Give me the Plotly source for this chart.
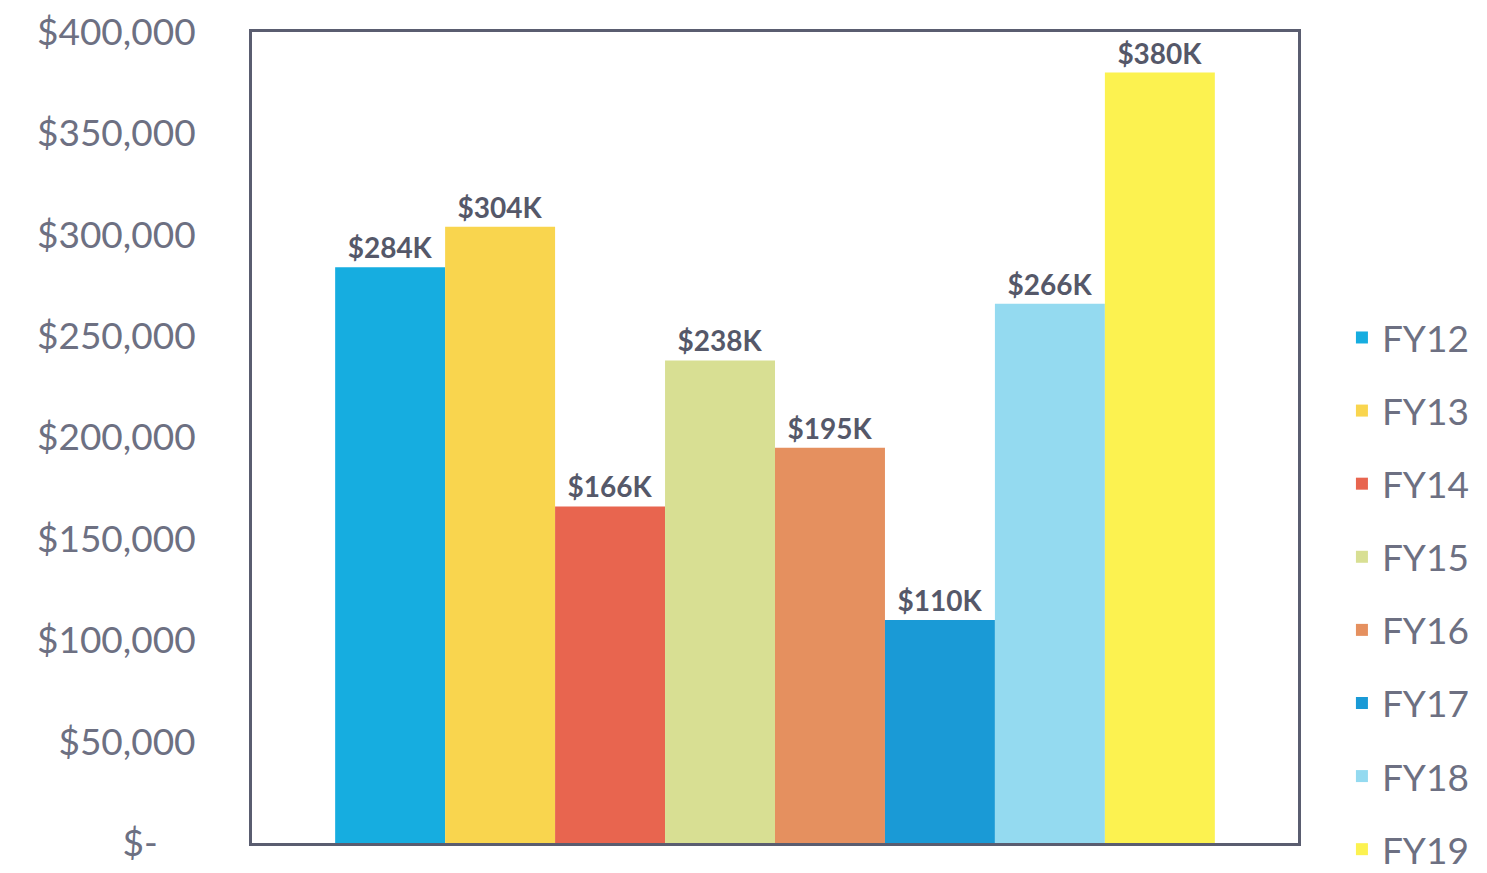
import plotly.graph_objects as go

years = ["FY12", "FY13", "FY14", "FY15", "FY16", "FY17", "FY18", "FY19"]
values = [284000, 304000, 166000, 238000, 195000, 110000, 266000, 380000]
labels = ["$284K", "$304K", "$166K", "$238K", "$195K", "$110K", "$266K", "$380K"]
colors = ["#16ade0", "#f9d54e", "#e8654f", "#d8df93", "#e5905f", "#1a9ad6", "#94daf0", "#fcf250"]
tick_vals = [0, 50000, 100000, 150000, 200000, 250000, 300000, 350000, 400000]
tick_text = ["$-\u00a0\u00a0\u00a0\u00a0", "$50,000", "$100,000", "$150,000", "$200,000",
             "$250,000", "$300,000", "$350,000", "$400,000"]

fig = go.Figure()
for yr, v, lab, c in zip(years, values, labels, colors):
    fig.add_trace(go.Bar(
        x=["All"], y=[v], name=yr, legendgroup=yr,
        marker=dict(color=c, line=dict(width=0)),
        text=[lab], textposition="outside", cliponaxis=False,
        textfont=dict(family="Lato", size=28, color="#555869", weight="bold"),
    ))

fig.update_layout(
    width=1487, height=873,
    margin=dict(l=244, r=197, t=24, b=38, autoexpand=False),
    paper_bgcolor="white", plot_bgcolor="white",
    barmode="group", bargap=0.159, bargroupgap=0,
    showlegend=True,
    legend=dict(
        x=1.042, xanchor="left", y=0.661, yanchor="top",
        font=dict(family="Lato", size=37, color="#6d7082"),
        tracegroupgap=22, itemwidth=30,
        bgcolor="rgba(0,0,0,0)",
    ),
    font=dict(family="Lato"),
)
fig.update_xaxes(
    showticklabels=False, showgrid=False, zeroline=False,
    showline=True, mirror=True, linecolor="#5a5d70", linewidth=3,
    range=[-0.5, 0.5],
)
fig.update_yaxes(
    range=[0, 400000], tickvals=tick_vals, ticktext=tick_text,
    showgrid=False, zeroline=False,
    showline=True, mirror=True, linecolor="#5a5d70", linewidth=3,
    tickfont=dict(family="Lato", size=37, color="#6d7082"),
    ticks="", ticklabelstandoff=46, ticklabeloverflow="allow",
)

fig.write_html("out.html")
